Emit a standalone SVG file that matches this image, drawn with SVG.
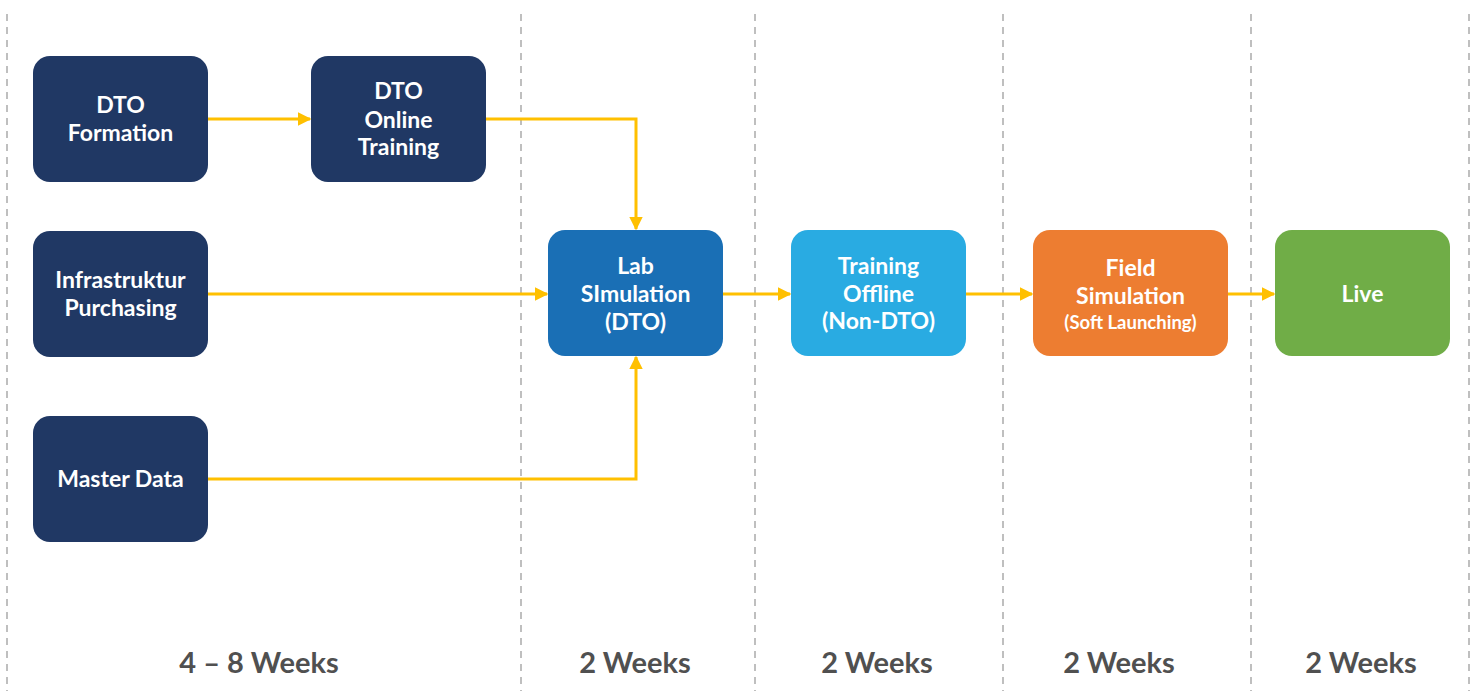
<svg xmlns="http://www.w3.org/2000/svg" width="1475" height="691" viewBox="0 0 1475 691">
<defs>
<style>
.grid{stroke:#bfbfbf;stroke-width:2;stroke-dasharray:7 6;fill:none}
.box{stroke:none}
.t{font-family:Lato,"Open Sans","Liberation Sans",sans-serif;font-weight:bold;font-size:23px;fill:#ffffff;text-anchor:middle}
.ts{font-size:18.5px}
.wk{font-family:Lato,"Open Sans","Liberation Sans",sans-serif;font-weight:bold;font-size:29px;fill:#505050;text-anchor:middle}
.c{stroke:#ffc000;stroke-width:3;fill:none}
</style>
<marker id="ah" viewBox="0 0 10 10" refX="9" refY="5" markerWidth="4.5" markerHeight="4.5" orient="auto" markerUnits="strokeWidth">
<path d="M0,0 L10,5 L0,10 z" fill="#ffc000"/>
</marker>
</defs>
<rect width="1475" height="691" fill="#ffffff"/>
<g id="grid">
<line class="grid" x1="7" y1="14" x2="7" y2="691"/>
<line class="grid" x1="521" y1="14" x2="521" y2="691"/>
<line class="grid" x1="755" y1="14" x2="755" y2="691"/>
<line class="grid" x1="1003" y1="14" x2="1003" y2="691"/>
<line class="grid" x1="1251" y1="14" x2="1251" y2="691"/>
<line class="grid" x1="1469" y1="14" x2="1469" y2="691"/>
</g>
<g id="connectors">
<path class="c" d="M208,119 L310,119" marker-end="url(#ah)"/>
<path class="c" d="M486,119 L636,119 L636,229" marker-end="url(#ah)"/>
<path class="c" d="M208,294 L547,294" marker-end="url(#ah)"/>
<path class="c" d="M208,479 L636,479 L636,357" marker-end="url(#ah)"/>
<path class="c" d="M723,294 L790,294" marker-end="url(#ah)"/>
<path class="c" d="M966,294 L1032,294" marker-end="url(#ah)"/>
<path class="c" d="M1228,294 L1274,294" marker-end="url(#ah)"/>
</g>
<g id="dto-formation">
<rect class="box" x="33" y="56" width="175" height="126" rx="17" fill="#203864"/>
<text class="t" x="120.5" y="113">DTO</text>
<text class="t" x="120.5" y="141">Formation</text>
</g>
<g id="dto-online-training">
<rect class="box" x="311" y="56" width="175" height="126" rx="17" fill="#203864"/>
<text class="t" x="398.5" y="99">DTO</text>
<text class="t" x="398.5" y="128">Online</text>
<text class="t" x="398.5" y="155">Training</text>
</g>
<g id="infrastruktur-purchasing">
<rect class="box" x="33" y="231" width="175" height="126" rx="17" fill="#203864"/>
<text class="t" x="120.5" y="288">Infrastruktur</text>
<text class="t" x="120.5" y="316">Purchasing</text>
</g>
<g id="master-data">
<rect class="box" x="33" y="416" width="175" height="126" rx="17" fill="#203864"/>
<text class="t" x="120.5" y="487">Master Data</text>
</g>
<g id="lab-simulation">
<rect class="box" x="548" y="230" width="175" height="126" rx="17" fill="#1a6fb5"/>
<text class="t" x="635.5" y="274">Lab</text>
<text class="t" x="635.5" y="302">SImulation</text>
<text class="t" x="635.5" y="330">(DTO)</text>
</g>
<g id="training-offline">
<rect class="box" x="791" y="230" width="175" height="126" rx="17" fill="#29abe2"/>
<text class="t" x="878.5" y="274">Training</text>
<text class="t" x="878.5" y="302">Offline</text>
<text class="t" x="878.5" y="329">(Non-DTO)</text>
</g>
<g id="field-simulation">
<rect class="box" x="1033" y="230" width="195" height="126" rx="17" fill="#ed7d31"/>
<text class="t" x="1130.5" y="276">Field</text>
<text class="t" x="1130.5" y="304">Simulation</text>
<text class="t ts" x="1130.5" y="329">(Soft Launching)</text>
</g>
<g id="live">
<rect class="box" x="1275" y="230" width="175" height="126" rx="17" fill="#70ad47"/>
<text class="t" x="1362.5" y="302">Live</text>
</g>
<g id="durations">
<text class="wk" x="259" y="673">4 – 8 Weeks</text>
<text class="wk" x="635" y="673">2 Weeks</text>
<text class="wk" x="877" y="673">2 Weeks</text>
<text class="wk" x="1119" y="673">2 Weeks</text>
<text class="wk" x="1361" y="673">2 Weeks</text>
</g>
</svg>
